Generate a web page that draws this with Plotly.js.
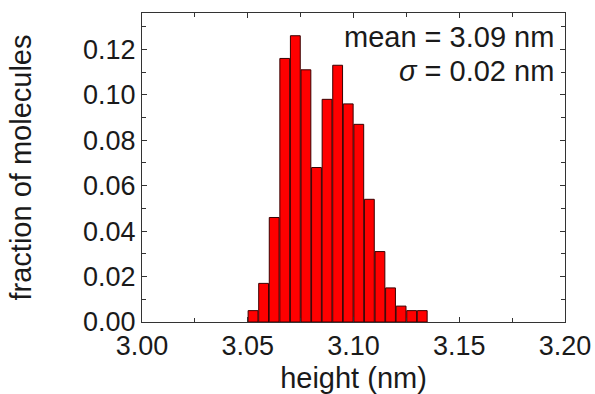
<!DOCTYPE html>
<html>
<head>
<meta charset="utf-8">
<script src="https://cdn.plot.ly/plotly-3.0.1.min.js"></script>
<style>html,body{margin:0;padding:0;background:#fff;}#chart{width:595px;height:394px;}</style>
</head>
<body>
<div id="chart"></div>
<script>
// bin centres (nm), bin width 0.005 nm
const binCenters = [3.0525, 3.0575, 3.0625, 3.0675, 3.0725, 3.0775, 3.0825, 3.0875, 3.0925, 3.0975, 3.1025, 3.1075, 3.1125, 3.1175, 3.1225, 3.1275, 3.1325];
const fractions = [0.005, 0.017, 0.046, 0.116, 0.126, 0.111, 0.068, 0.098, 0.113, 0.096, 0.087, 0.054, 0.031, 0.015, 0.007, 0.005, 0.005];
const binWidth = 0.005;
const meanText = "mean = 3.09 nm";
const sigmaText = "<i>σ</i> = 0.02 nm";

const font = "Liberation Sans, Arial, sans-serif";
const textColor = "#1a1a1a";

const trace = {
  type: "bar",
  x: binCenters,
  y: fractions,
  width: binCenters.map(() => binWidth * 0.93),
  marker: {color: "#ff0000", line: {color: "#3a0000", width: 1}},
  hoverinfo: "skip"
};

const axisCommon = {
  showgrid: false,
  zeroline: false,
  showline: true,
  linecolor: "#333",
  linewidth: 1,
  mirror: "ticks",
  ticks: "inside",
  ticklen: 5,
  tickcolor: "#333",
  tickfont: {family: font, size: 27, color: textColor},
  automargin: false
};

const layout = {
  width: 595, height: 394,
  margin: {l: 142, r: 30, t: 13, b: 72},
  paper_bgcolor: "#fff", plot_bgcolor: "#fff",
  showlegend: false,
  bargap: 0,
  xaxis: Object.assign({}, axisCommon, {
    range: [3.0, 3.2],
    dtick: 0.05, tick0: 3.0,
    tickformat: ".2f",
    minor: {ticks: "inside", dtick: 0.025, ticklen: 4, tickcolor: "#333"},
    title: {text: "height (nm)", font: {family: font, size: 29, color: textColor}, standoff: 9}
  }),
  yaxis: Object.assign({}, axisCommon, {
    range: [0, 0.136],
    dtick: 0.02, tick0: 0,
    tickformat: ".2f",
    minor: {ticks: "inside", dtick: 0.01, ticklen: 4, tickcolor: "#333"},
    title: {text: "fraction of molecules", font: {family: font, size: 29, color: textColor}, standoff: 42}
  }),
  annotations: [
    {xref: "paper", yref: "paper", x: 0.978, y: 0.921, xanchor: "right", yanchor: "middle",
     text: meanText, showarrow: false, font: {family: font, size: 29, color: textColor}},
    {xref: "paper", yref: "paper", x: 0.978, y: 0.812, xanchor: "right", yanchor: "middle",
     text: sigmaText, showarrow: false, font: {family: font, size: 29, color: textColor}}
  ]
};

Plotly.newPlot("chart", [trace], layout, {staticPlot: true, displayModeBar: false});
</script>
</body>
</html>
